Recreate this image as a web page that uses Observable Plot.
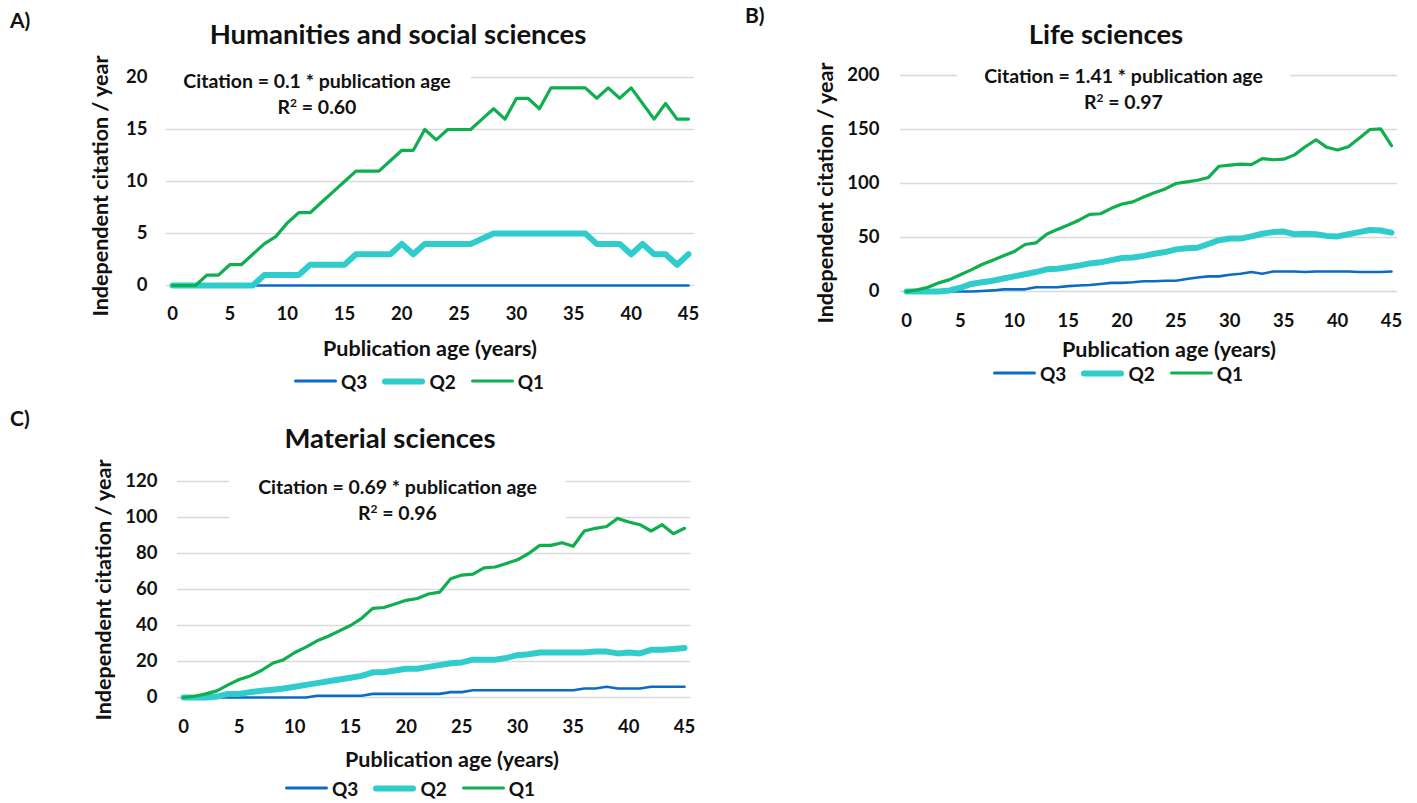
<!DOCTYPE html>
<html>
<head>
<meta charset="utf-8">
<script src="https://cdn.jsdelivr.net/npm/d3@7"></script>
<script src="https://cdn.jsdelivr.net/npm/@observablehq/plot@0.6"></script>
<style>
  html, body { margin: 0; padding: 0; background: #fff; }
  #root { position: relative; width: 1417px; height: 803px; overflow: hidden; font-family: Lato, "Open Sans", sans-serif; font-weight: bold; color: #111; }
  .abs { position: absolute; white-space: nowrap; }
  .c { transform: translate(-50%, -50%); }
  .ylab { transform: translate(-50%, -50%) rotate(-90deg); font-size: 21.5px; }
  .xlab { font-size: 21.5px; }
  .title { font-size: 27.5px; }
  .panel { font-size: 21px; line-height: 24px; }
  .note { font-size: 19.5px; background: #fff; text-align: center; line-height: 26px; }
  .legend { display: flex; align-items: center; font-size: 19px; }
  .sw { display: inline-block; width: 43px; border-radius: 4px; margin-right: 4px; }
  .item { display: flex; align-items: center; margin-right: 15px; }
  .item:last-child { margin-right: 0; }
  svg { position: absolute; }
</style>
</head>
<body>
<div id="root"></div>
<script>
// ---------- data ----------
const ages = [0,1,2,3,4,5,6,7,8,9,10,11,12,13,14,15,16,17,18,19,20,21,22,23,24,25,26,27,28,29,30,31,32,33,34,35,36,37,38,39,40,41,42,43,44,45];
const xTicks = [0,5,10,15,20,25,30,35,40,45];
const seriesNames = ["Q3","Q2","Q1"];

// A) Humanities and social sciences
const humQ1 = [0,0,0,1,1,2,2,3,4,4.7,6,7,7,8,9,10,11,11,11,12,13,13,15,14,15,15,15,16,17,16,18,18,17,19,19,19,19,18,19,18,19,17.5,16,17.5,16,16];
const humQ2 = [0,0,0,0,0,0,0,0,1,1,1,1,2,2,2,2,3,3,3,3,4,3,4,4,4,4,4,4.5,5,5,5,5,5,5,5,5,5,4,4,4,3,4,3,3,2,3];
const humQ3 = [0,0,0,0,0,0,0,0,0,0,0,0,0,0,0,0,0,0,0,0,0,0,0,0,0,0,0,0,0,0,0,0,0,0,0,0,0,0,0,0,0,0,0,0,0,0];
const humYTicks = [0,5,10,15,20];

// B) Life sciences
const lifeQ1 = [0,1.5,4,8,11,15.5,20,25,29,33,37,43.5,45,53,57.5,61.5,66,71.5,72,77,81,83,87.5,91.5,95,100,101.5,103,105.5,116,117,118,117.5,123,122,122.5,126.5,134,140.5,133.5,131,134,142,150,150.5,135];
const lifeQ2 = [0,0,0,0,1,3.5,7,8.5,10,12,14,16,18,20.5,21,22.5,24,26,27,29,31,31.5,33,35,36.5,39,40,40.5,44,47.5,49,49,51,53.5,55,55.5,53,53.5,53,51.5,51,53,55,57,56.5,54.5];
const lifeQ3 = [0,0,0,0,0,0,0,0.5,1,2,2,2,4,4,4,5,5.5,6,7,8,8,8.5,9.5,9.5,10,10,11.5,13,14,14,15.5,16.5,18,16.5,18.5,18.5,18.5,18,18.5,18.5,18.5,18.5,18,18,18,18.5];
const lifeYTicks = [0,50,100,150,200];

// C) Material sciences
const matQ1 = [0,0.7,2,3.7,7,10,12,15,19,21,25,28,31.5,34,37,40,44,49.5,50,52,54,55,57.5,58.5,66,68,68.5,72,72.5,74.5,76.5,80,84.5,84.5,86,84,92.5,94,95,99.5,97.5,96,92.5,96,91,94];
const matQ2 = [0,0,0,0.5,2,2,3,3.7,4.3,5,6,7,8,9,10,11,12,14,14,15,16,16,17,18,19,19.5,21,21,21,22,23.5,24,25,25,25,25,25,25.5,25.5,24.5,25,24.5,26.5,26.5,27,27.5];
const matQ3 = [0,0,0,0,0,0,0,0,0,0,0,0,1,1,1,1,1,2,2,2,2,2,2,2,3,3,4,4,4,4,4,4,4,4,4,4,5,5,6,5,5,5,6,6,6,6];
const matYTicks = [0,20,40,60,80,100,120];

// ---------- styles ----------
const colors = {Q3: "#0a6cc4", Q2: "#30cccc", Q1: "#0fae4e"};
const widths = {Q3: 2.6, Q2: 6, Q1: 3.2};

const root = document.getElementById("root");
function el(cls, html, x, y, extra) {
  const d = document.createElement("div");
  d.className = "abs " + cls;
  d.innerHTML = html;
  d.style.left = x + "px";
  d.style.top = y + "px";
  if (extra) Object.assign(d.style, extra);
  root.appendChild(d);
  return d;
}

function panel(cfg) {
  const rows = [];
  const vals = {Q3: cfg.q3, Q2: cfg.q2, Q1: cfg.q1};
  for (const s of seriesNames) ages.forEach((a, i) => rows.push({series: s, age: a, value: vals[s][i]}));
  const svg = Plot.plot({
    width: cfg.w, height: cfg.h,
    marginLeft: cfg.ml, marginRight: cfg.mr, marginTop: cfg.mt, marginBottom: cfg.mb,
    style: {fontFamily: "Lato, 'Open Sans', sans-serif", fontSize: "18.5px", fontWeight: "bold", color: "#111", background: "transparent", overflow: "visible"},
    x: {domain: [0, 45], insetLeft: 6, insetRight: 6},
    y: {domain: [0, cfg.yTicks[cfg.yTicks.length - 1]]},
    marks: [
      Plot.gridY(cfg.yTicks, {stroke: "#d9d9d9", strokeOpacity: 1, strokeWidth: 1.6}),
      Plot.axisX(xTicks, {tickSize: 0, tickPadding: cfg.xpad, label: null, tickFormat: d => String(d)}),
      Plot.axisY(cfg.yTicks, {tickSize: 0, tickPadding: cfg.ypad, label: null, tickFormat: d => String(d)}),
      ...seriesNames.map(s => Plot.line(rows.filter(r => r.series === s), {
        x: "age", y: "value", stroke: colors[s], strokeWidth: widths[s], strokeLinejoin: "round", strokeLinecap: "round"
      }))
    ]
  });
  svg.style.left = cfg.left + "px";
  svg.style.top = cfg.top + "px";
  root.appendChild(svg);

  // annotation box (white, hides gridlines behind the text)
  el("note", cfg.note, cfg.noteBox[0], cfg.noteBox[1], {width: cfg.noteBox[2] + "px", height: cfg.noteBox[3] + "px", paddingTop: cfg.notePad + "px", boxSizing: "border-box"});
  el("panel", cfg.letter, cfg.letterXY[0], cfg.letterXY[1]);
  el("title c", cfg.title, cfg.titleXY[0], cfg.titleXY[1]);
  el("ylab", "Independent citation / year", cfg.ylabXY[0], cfg.ylabXY[1]);
  el("xlab c", "Publication age (years)", cfg.xlabXY[0], cfg.xlabXY[1]);
  const lg = el("legend", "", cfg.legendXY[0], cfg.legendXY[1], {transform: "translateY(-50%)"});
  for (const s of seriesNames) {
    const it = document.createElement("div");
    it.className = "item";
    it.innerHTML = `<span class="sw" style="height:${widths[s]}px;background:${colors[s]}"></span><span>${s}</span>`;
    lg.appendChild(it);
  }
}

const sup = "<sup style='font-size:12px;vertical-align:7px;line-height:0'>2</sup>";

panel({
  letter: "A)", letterXY: [10, 8],
  title: "Humanities and social sciences", titleXY: [398, 33],
  q1: humQ1, q2: humQ2, q3: humQ3, yTicks: humYTicks,
  left: 80, top: 60, w: 625, h: 270, ml: 86, mr: 11, mt: 17, mb: 45, xpad: 21, ypad: 19,
  note: "Citation = 0.1 * publication age<br>R" + sup + " = 0.60",
  noteBox: [163, 66, 308, 56], notePad: 2,
  ylabXY: [100, 186], xlabXY: [430, 348], legendXY: [294, 381]
});

panel({
  letter: "B)", letterXY: [745, 3],
  title: "Life sciences", titleXY: [1106, 33],
  q1: lifeQ1, q2: lifeQ2, q3: lifeQ3, yTicks: lifeYTicks,
  left: 780, top: 55, w: 625, h: 280, ml: 120, mr: 8, mt: 20, mb: 44, xpad: 22, ypad: 21,
  note: "Citation = 1.41 * publication age<br>R" + sup + " = 0.97",
  noteBox: [957, 62, 333, 56], notePad: 1,
  ylabXY: [825, 193], xlabXY: [1169, 349], legendXY: [993, 373]
});

panel({
  letter: "C)", letterXY: [10, 406],
  title: "Material sciences", titleXY: [390, 437],
  q1: matQ1, q2: matQ2, q3: matQ3, yTicks: matYTicks,
  left: 80, top: 460, w: 620, h: 280, ml: 97, mr: 10, mt: 21, mb: 43, xpad: 22, ypad: 20,
  note: "Citation = 0.69 * publication age<br>R" + sup + " = 0.96",
  noteBox: [229, 470, 337, 56], notePad: 4,
  ylabXY: [103, 590], xlabXY: [452, 759], legendXY: [285, 788]
});
</script>
</body>
</html>
